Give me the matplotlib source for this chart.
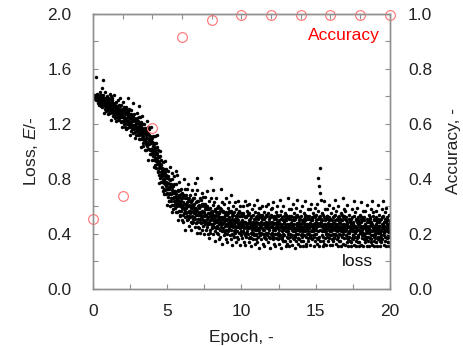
import numpy as np
import matplotlib
matplotlib.use('Agg')
import matplotlib.pyplot as plt
from matplotlib.ticker import MultipleLocator

plt.rcParams['font.family'] = ['Liberation Sans', 'DejaVu Sans']
plt.rcParams['mathtext.fontset'] = 'custom'
plt.rcParams['mathtext.it'] = 'Liberation Sans:italic'
plt.rcParams['mathtext.rm'] = 'Liberation Sans'

# loss per iteration, one string per epoch (80 iterations each), values x100
loss_x100 = [
    # epoch 0
    "140 140 141 140 141 139 140 139 140 140 139 140 138 140 154 139 141 137 140 139 "
    "140 139 137 142 138 140 135 140 137 139 137 140 138 134 139 136 143 138 141 136 "
    "139 133 139 137 135 141 136 146 132 138 133 137 141 134 136 152 139 135 128 139 "
    "136 137 131 143 134 137 133 139 130 134 134 129 136 138 131 135 140 132 137 127",
    # epoch 1
    "137 133 139 130 134 128 135 138 132 142 130 138 132 134 128 140 131 123 136 134 "
    "133 129 137 131 139 128 134 126 132 135 129 132 126 134 141 130 135 124 132 128 "
    "133 129 127 136 128 131 122 133 125 131 128 133 130 123 131 126 137 128 134 125 "
    "130 123 131 128 125 133 127 139 121 129 125 129 134 126 128 122 131 127 118 131",
    # epoch 2
    "127 130 122 136 125 129 123 132 120 125 124 118 128 130 121 127 132 123 128 116 "
    "127 122 130 120 124 117 126 129 122 139 120 128 122 125 118 131 121 112 127 124 "
    "124 119 127 121 130 118 124 115 122 126 119 122 116 124 135 119 125 113 123 117 "
    "124 119 116 127 118 122 110 123 114 121 117 123 120 112 121 116 128 118 124 115",
    # epoch 3
    "121 112 122 118 114 125 116 133 109 120 112 118 125 113 117 109 120 115 103 121 "
    "115 118 109 126 112 117 110 120 106 113 111 104 115 116 108 113 120 109 116 101 "
    "114 108 117 105 110 101 112 115 107 122 104 114 107 110 102 118 105 94 113 109 "
    "108 102 112 105 116 101 109 98 106 111 102 106 98 108 118 102 110 94 107 100",
    # epoch 4
    "107 101 97 111 99 104 89 106 94 103 97 105 100 90 102 95 111 98 106 93 "
    "98 88 99 95 91 103 93 112 85 97 86 93 101 88 92 83 96 90 77 97 "
    "88 91 81 100 85 90 83 94 78 86 82 74 86 88 78 84 92 80 87 71 "
    "83 77 87 73 79 69 81 85 76 93 72 83 75 78 69 87 73 61 81 77",
    # epoch 5
    "76 70 82 73 86 67 77 64 74 80 69 73 64 76 89 70 79 60 74 66 "
    "76 69 64 80 84 72 56 74 61 71 66 75 70 58 71 64 82 67 76 61 "
    "70 59 71 67 63 76 65 86 56 69 60 67 83 62 66 56 71 64 50 72 "
    "65 68 57 78 62 67 60 72 54 63 62 53 66 69 57 64 73 60 67 50",
    # epoch 6
    "66 59 70 54 61 49 63 68 58 80 55 68 59 62 52 73 57 43 66 61 "
    "62 55 68 59 73 53 63 50 60 66 56 60 51 64 76 57 66 46 61 53 "
    "64 57 52 68 55 60 43 63 49 59 56 65 59 48 61 53 72 57 66 51 "
    "60 49 62 57 52 66 55 77 45 59 51 59 69 54 58 48 63 56 41 64",
    # epoch 7
    "57 81 49 72 54 60 51 64 45 55 54 44 59 61 49 56 66 51 60 41 "
    "60 53 65 48 55 43 57 62 51 70 49 62 53 56 46 67 50 40 60 55 "
    "56 49 62 53 67 47 58 43 54 60 49 54 45 58 71 51 60 40 55 47 "
    "59 52 47 64 49 55 37 58 43 54 50 59 53 41 56 47 66 51 81 45",
    # epoch 8
    "55 44 57 52 47 61 50 72 40 54 45 53 63 48 52 42 57 50 35 58 "
    "52 56 44 66 49 54 46 59 41 50 49 40 53 56 44 51 60 47 55 36 "
    "55 48 59 43 50 38 52 57 47 73 45 58 49 52 42 63 47 33 56 51 "
    "51 44 57 48 62 42 52 39 49 55 46 50 41 54 66 47 56 36 51 43",
    # epoch 9
    "50 40 54 34 51 46 59 43 48 55 42 57 48 63 44 52 39 50 56 47 "
    "50 36 68 46 57 43 48 53 40 51 55 32 47 54 39 49 45 60 50 42 "
    "47 38 56 43 51 46 63 41 53 49 34 53 45 58 49 42 54 51 38 47 "
    "64 45 55 50 36 48 41 57 46 53 48 53 32 44 60 39 49 46 55 42",
    # epoch 10
    "40 50 37 47 53 49 42 55 46 60 45 54 34 49 41 44 48 39 52 64 "
    "49 32 52 38 48 53 46 41 57 44 42 61 46 55 40 45 54 48 37 50 "
    "55 44 62 34 48 49 38 51 46 41 37 52 45 31 53 40 48 58 43 47 "
    "49 41 54 36 45 47 51 39 61 44 47 56 43 51 33 45 36 49 52 40",
    # epoch 11
    "39 46 34 48 53 43 65 51 44 55 48 38 59 43 30 52 47 41 54 45 "
    "45 59 39 49 36 46 52 48 41 54 51 60 44 53 33 48 40 43 47 38 "
    "56 43 48 31 51 37 47 52 45 40 36 49 41 60 45 54 39 44 53 47 "
    "46 41 55 44 62 34 48 49 38 51 43 47 37 52 45 30 53 40 48 58",
    # epoch 12
    "48 54 59 49 46 41 45 39 36 52 43 38 63 53 48 47 51 44 33 40 "
    "52 40 43 31 37 45 56 48 51 47 44 47 49 60 54 53 36 41 45 39 "
    "48 50 40 43 33 37 45 54 65 47 39 57 46 51 30 47 42 36 44 52 "
    "46 38 43 40 35 50 60 48 53 44 44 48 39 55 50 35 51 46 42 31",
    # epoch 13
    "50 54 45 47 42 43 38 33 52 66 40 44 37 42 51 53 47 58 31 46 "
    "51 35 38 44 40 45 48 58 53 47 39 32 43 50 46 47 52 62 37 42 "
    "46 50 47 55 44 36 30 42 39 51 38 44 40 35 52 53 59 48 46 43 "
    "47 65 54 45 37 33 43 40 50 48 52 44 36 42 47 31 51 46 57 39",
    # epoch 14
    "53 35 44 46 50 38 60 43 48 40 42 50 31 44 35 48 51 39 46 55 "
    "52 42 64 50 43 54 38 45 33 47 31 51 46 40 53 44 47 37 58 42 "
    "35 45 51 47 40 53 44 58 38 48 32 47 39 42 46 37 50 62 43 52 "
    "50 36 46 51 44 39 55 42 47 31 44 53 38 43 52 46 35 48 40 59",
    # epoch 15
    "50 45 40 54 43 62 33 47 48 37 57 42 46 36 51 81 31 52 75 47 "
    "38 88 43 48 70 53 35 65 46 50 48 51 39 46 55 42 50 31 44 35 "
    "54 38 45 33 47 52 42 64 50 43 44 47 37 58 42 32 51 46 40 53 "
    "53 44 58 38 48 35 45 51 47 40 37 50 61 43 52 32 47 39 42 46",
    # epoch 16
    "51 44 39 55 42 47 32 50 36 46 43 52 46 35 48 40 59 44 53 38 "
    "48 37 50 45 40 54 43 65 33 47 39 47 57 42 46 36 51 44 31 52 "
    "46 50 38 60 43 48 40 53 35 44 44 35 48 51 39 46 55 42 50 31 "
    "50 43 54 38 45 33 47 52 42 66 40 53 44 47 37 58 42 32 51 46",
    # epoch 17
    "57 43 52 39 46 50 44 34 47 37 61 49 36 45 41 38 46 31 51 42 "
    "41 54 38 43 50 45 35 49 31 46 47 34 45 51 42 37 52 43 58 39 "
    "39 44 49 36 47 46 32 64 42 53 45 41 56 46 38 51 31 43 50 35 "
    "42 59 37 49 45 43 34 52 39 47 38 50 47 34 43 31 49 41 54 45",
    # epoch 18
    "53 42 49 63 41 51 46 32 44 37 43 52 39 45 50 31 41 57 36 46 "
    "52 39 46 50 44 34 47 37 57 43 36 45 41 38 46 31 51 42 61 49 "
    "38 43 50 45 35 49 31 46 41 54 45 51 42 37 52 43 58 39 47 34 "
    "49 36 47 46 32 64 42 53 39 44 56 46 38 51 31 43 50 35 45 41",
    # epoch 19
    "39 43 37 34 50 46 52 57 47 44 45 49 42 31 38 41 36 61 51 46 "
    "43 54 46 49 45 50 38 41 31 35 51 34 39 43 37 42 45 47 58 52 "
    "36 44 53 64 46 47 49 39 42 32 46 41 35 43 51 38 56 45 50 31 "
    "49 59 47 52 43 45 37 42 39 34 34 50 45 41 31 43 47 38 54 49",
]

acc_epoch = [0, 2, 4, 6, 8, 10, 12, 14, 16, 18, 20]
accuracy = [0.255, 0.338, 0.585, 0.916, 0.978, 0.997, 0.997, 0.997, 0.997, 0.997, 0.997]

# iteration -> epoch
loss_epoch = []
loss_val = []
for ep, row in enumerate(loss_x100):
    vals = [int(v) / 100.0 for v in row.split()]
    n = len(vals)
    loss_epoch.extend(ep + np.arange(n) / n)
    loss_val.extend(vals)

fig = plt.figure(figsize=(4.63, 3.46), dpi=100)
ax = fig.add_axes([0.201, 0.165, 0.641, 0.795])

ax.plot(loss_epoch, loss_val, 'o', color='black', markersize=2.5, markeredgewidth=0)
ax.set_xlim(0, 20)
ax.set_ylim(0, 2.0)
ax.xaxis.set_major_locator(MultipleLocator(5))
ax.xaxis.set_minor_locator(MultipleLocator(2.5))
ax.yaxis.set_major_locator(MultipleLocator(0.4))
ax.yaxis.set_minor_locator(MultipleLocator(0.2))
ax.set_yticklabels(['%.1f' % v for v in ax.get_yticks()])

ax2 = ax.twinx()
ax2.plot(acc_epoch, accuracy, 'o', markerfacecolor='none', markeredgecolor='#ff7070',
         markersize=7, markeredgewidth=0.8, clip_on=False)
ax2.set_ylim(0, 1.0)
ax2.yaxis.set_major_locator(MultipleLocator(0.2))
ax2.yaxis.set_minor_locator(MultipleLocator(0.1))
ax2.set_yticklabels(['%.1f' % v for v in ax2.get_yticks()])

top = ax.secondary_xaxis('top')
top.set_xticks(np.arange(0, 21, 2))
top.tick_params(direction='in', length=3.6, width=0.8, color='#909090', labeltop=False)
top.spines['top'].set_color('#909090')

for a in (ax, ax2):
    for s in a.spines.values():
        s.set_color('#909090')
        s.set_linewidth(1.0)
    a.tick_params(which='both', direction='in', length=3.6, width=0.8, color='#909090',
                  labelsize=12.5, labelcolor='#222222')
ax.tick_params(axis='x', pad=11)
ax.tick_params(axis='y', pad=15.5)
ax2.tick_params(axis='y', pad=13)

ax.set_xlabel('Epoch, -', fontsize=12.5, color='#222222', labelpad=8)
ax.set_ylabel('Loss, $\\it{E}$/-', fontsize=12.5, color='#222222', labelpad=5)
ax2.set_ylabel('Accuracy, -', fontsize=12.5, color='#222222', labelpad=10)

ax.text(0.966, 0.92, 'Accuracy', transform=ax.transAxes, color='red', fontsize=12.5,
        ha='right', va='center')
ax.text(0.943, 0.098, 'loss', transform=ax.transAxes, color='#111111', fontsize=12.5,
        ha='right', va='center')

fig.savefig('out.png', dpi=100)
